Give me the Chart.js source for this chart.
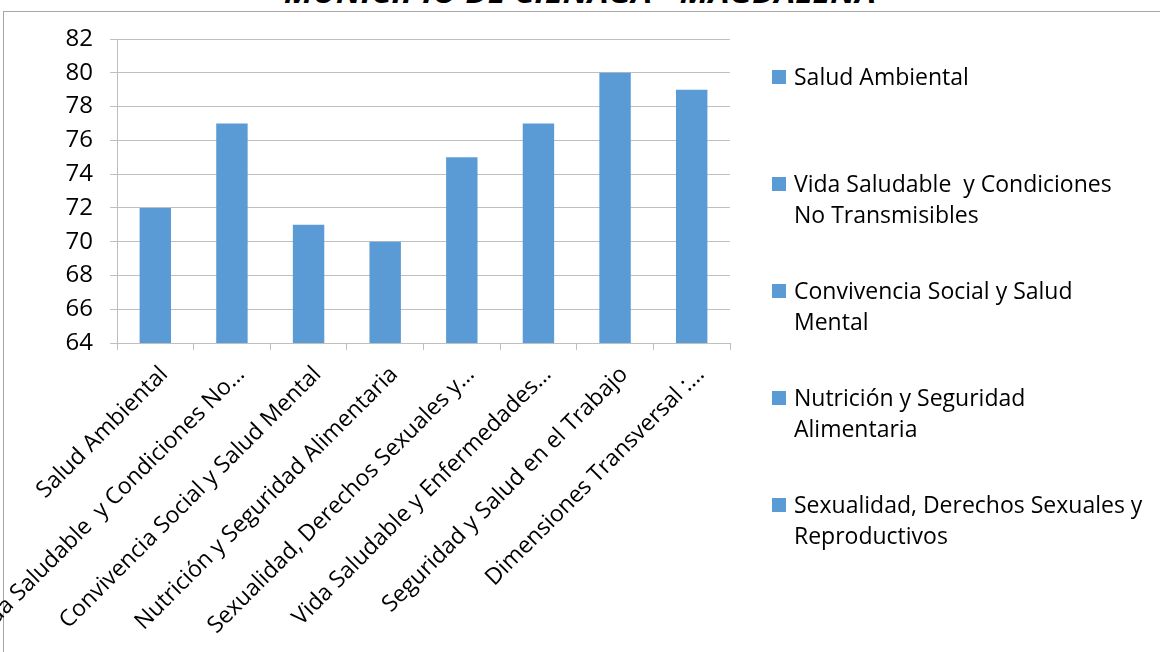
<!DOCTYPE html>
<html>
<head>
<meta charset="utf-8">
<title>Municipio de Ciénaga - Magdalena</title>
<script src="https://cdn.jsdelivr.net/npm/chart.js@4/dist/chart.umd.min.js"></script>
<style>
  html, body { margin: 0; padding: 0; background: #fff; }
  body { width: 1160px; height: 652px; position: relative; overflow: hidden; font-family: "Open Sans", "Noto Sans", sans-serif; }
  #frame { position: absolute; left: 3px; top: 11px; right: -10px; bottom: -10px; border-left: 1px solid #a6a6a6; border-top: 1px solid #a6a6a6; }
  #title { position: absolute; left: 0; width: 1160px; top: -29px; text-align: center; font-weight: bold; font-style: italic; font-size: 33px; color: #000; line-height: 40px; }
  #chart-wrap { position: absolute; left: 0; top: 0; width: 1160px; height: 652px; }
  #legend { position: absolute; left: 0; top: 0; }
  .leg-item { position: absolute; left: 772px; display: flex; align-items: flex-start; }
  .leg-box { width: 14px; height: 14px; background: #5b9bd5; margin-top: 9px; margin-right: 8px; flex: none; }
  .leg-text { font-size: 23px; line-height: 31px; color: #000; white-space: pre; }
</style>
</head>
<body>
<div id="frame"></div>
<div id="title">MUNICIPIO DE CIÉNAGA - MAGDALENA</div>
<div id="chart-wrap"><canvas id="barChart" width="1160" height="652"></canvas></div>
<div id="legend"></div>
<script>
const categories = [
  "Salud Ambiental",
  "Vida Saludable  y Condiciones No…",
  "Convivencia Social y Salud Mental",
  "Nutrición y Seguridad Alimentaria",
  "Sexualidad, Derechos Sexuales y…",
  "Vida Saludable y Enfermedades…",
  "Seguridad y Salud en el Trabajo",
  "Dimensiones Transversal :…"
];
const values = [72, 77, 71, 70, 75, 77, 80, 79];

const yMin = 64;
const yMax = 82;
const yStep = 2;

// legend as shown in the picture (only the first five entries fit)
const legendLabels = [
  ["Salud Ambiental"],
  ["Vida Saludable  y Condiciones", "No Transmisibles"],
  ["Convivencia Social y Salud", "Mental"],
  ["Nutrición y Seguridad", "Alimentaria"],
  ["Sexualidad, Derechos Sexuales y", "Reproductivos"]
];

const BAR_COLOR = "#5b9bd5";
const GRID_COLOR = "#bfbfbf";
const FONT = "'Open Sans', 'Noto Sans', sans-serif";

function renderLegend(){
  const legendEl = document.getElementById("legend");
  legendLabels.forEach((lines, i) => {
    const item = document.createElement("div");
    item.className = "leg-item";
    item.style.top = (61 + i * 107) + "px";

    const box = document.createElement("div");
    box.className = "leg-box";

    const text = document.createElement("div");
    text.className = "leg-text";
    text.textContent = lines.join("\n");

    item.appendChild(box);
    item.appendChild(text);
    legendEl.appendChild(item);
  });
}

function initChart(){
  const ctx = document.getElementById("barChart").getContext("2d");
  new Chart(ctx, {
    type: "bar",
    data: {
      labels: categories,
      datasets: [{
        label: "Dimensiones",
        data: values,
        backgroundColor: BAR_COLOR,
        borderWidth: 0,
        barPercentage: 0.41,
        categoryPercentage: 1
      }]
    },
    options: {
      responsive: false,
      animation: false,
      layout: { padding: { top: 39, right: 430, bottom: 0, left: 0 } },
      plugins: {
        legend: { display: false },
        title: { display: false },
        tooltip: { enabled: false }
      },
      scales: {
        x: {
          offset: true,
          grid: {
            offset: true,
            drawOnChartArea: false,
            drawTicks: true,
            tickLength: 7,
            color: GRID_COLOR
          },
          border: { color: GRID_COLOR },
          ticks: {
            autoSkip: false,
            minRotation: 45,
            maxRotation: 45,
            padding: 11,
            labelOffset: 9,
            color: "#000",
            font: { family: FONT, size: 23 }
          },
          afterFit(scale){
            scale.height = 309;
            scale.paddingLeft = 0;
            scale.paddingRight = 0;
          }
        },
        y: {
          min: yMin,
          max: yMax,
          grid: {
            color: GRID_COLOR,
            tickLength: 7
          },
          border: { color: GRID_COLOR },
          ticks: {
            stepSize: yStep,
            padding: 17,
            color: "#000",
            font: { family: FONT, size: 24 }
          },
          afterFit(scale){
            scale.width = 117;
            scale.paddingTop = 0;
            scale.paddingBottom = 0;
          }
        }
      }
    }
  });
}

renderLegend();
initChart();
</script>
</body>
</html>
